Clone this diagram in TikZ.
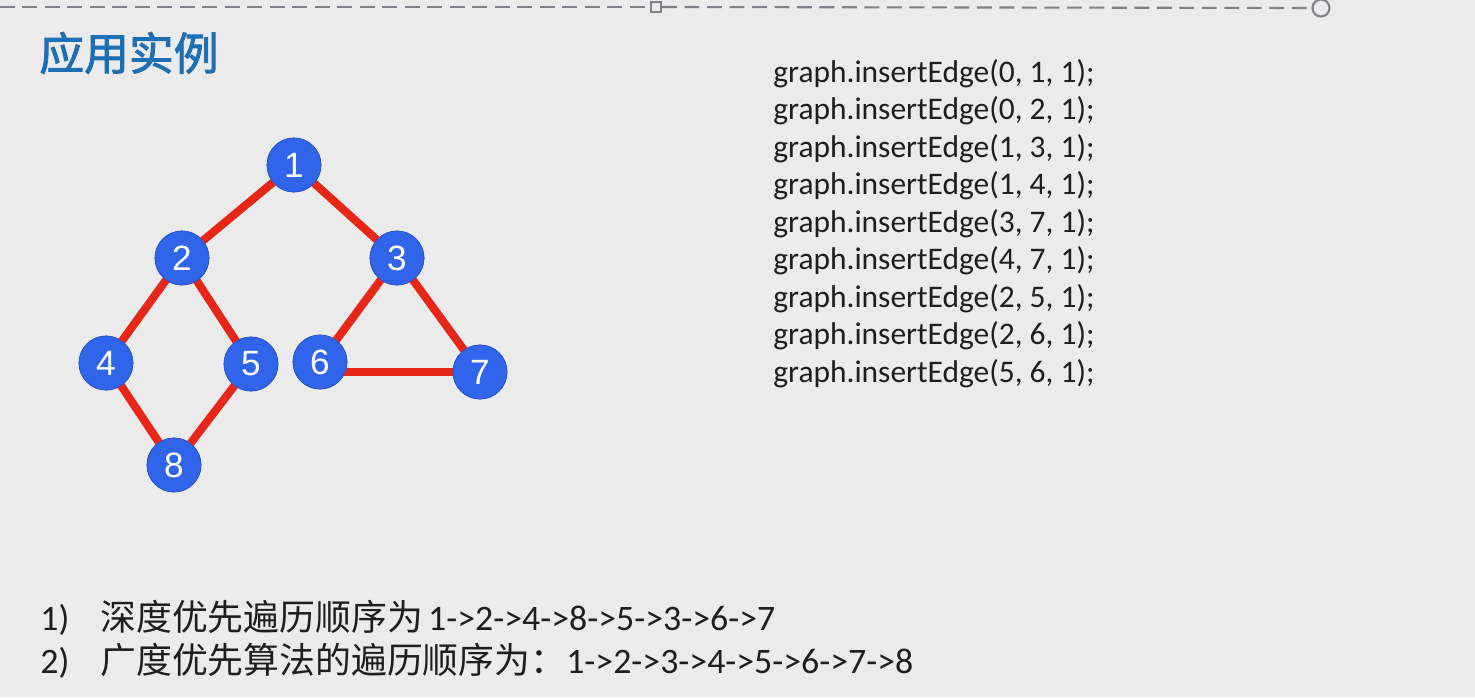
\documentclass[tikz,border=0pt]{standalone}
\usepackage{fontspec}
\setmainfont{Carlito}
\newfontfamily\cjk{Noto Sans CJK SC}
\newfontfamily\cjkb{Noto Sans CJK SC}[BoldFont=*,FakeBold=2]
\newfontfamily\numfont{Liberation Sans}
\definecolor{bgc}{RGB}{235,235,235}
\definecolor{nodeblue}{RGB}{48,100,235}
\definecolor{edgered}{RGB}{232,38,24}
\definecolor{titleblue}{RGB}{30,112,182}
\definecolor{dashgray}{RGB}{125,128,135}
\definecolor{txt}{RGB}{30,30,30}
\begin{document}
\begin{tikzpicture}[x=0.02cm,y=-0.02cm,
  vtx/.style={circle,fill=nodeblue,draw=nodeblue!85!black,line width=0.4pt,minimum size=1.08cm,inner sep=0pt,text=white,font=\numfont\fontsize{20}{20}\selectfont},
  edg/.style={draw=edgered,line width=4.6pt},
  guide/.style={dashgray,line width=1.2pt,dash pattern=on 8.5pt off 4.3pt},
  codeline/.style={anchor=base west,inner sep=0pt,text=txt,font=\fontsize{17.9}{20}\selectfont},
  bottomline/.style={anchor=base west,inner sep=0pt,text=txt,font=\fontsize{20.4}{22}\selectfont}]
\fill[bgc] (0,0) rectangle (1475,697);
\useasboundingbox (0,0) rectangle (1475,697);
% top dashed guide
\coordinate (dl) at (0,7);
\node[draw=dashgray,line width=1.2pt,fill=bgc,minimum size=0.2cm,inner sep=0pt] (sq) at (656,7) {};
\node[draw=dashgray,line width=1.2pt,fill=bgc,circle,minimum size=0.34cm,inner sep=0pt] (ring) at (1321,8) {};
\draw[guide] (dl) -- (sq.west);
\draw[guide] (sq.east) -- (ring.west);
% title
\node[anchor=west,inner sep=0pt,text=titleblue,font=\cjkb\fontsize{25.5}{26}\selectfont] (title) at (39,53) {应用实例};
% graph
\node[vtx] (n1) at (294,165) {1};
\node[vtx] (n2) at (182,258) {2};
\node[vtx] (n3) at (397,258) {3};
\node[vtx] (n4) at (106,363) {4};
\node[vtx] (n5) at (251,364) {5};
\node[vtx] (n6) at (320,362) {6};
\node[vtx] (n7) at (480,372) {7};
\node[vtx] (n8) at (174,465) {8};
\draw[edg] (n1.center) -- (n2.center);
\draw[edg] (n1.center) -- (n3.center);
\draw[edg] (n2.center) -- (n4.center);
\draw[edg] (n2.center) -- (n5.center);
\draw[edg] (n3.center) -- (n6.center);
\draw[edg] (n3.center) -- (n7.center);
\draw[edg] (n6.center |- n7.center) -- (n7.center);
\draw[edg] (n4.center) -- (n8.center);
\draw[edg] (n5.center) -- (n8.center);
% nodes drawn again on top of the edges
\foreach \n in {1,...,8} {\node[vtx] at (n\n) {\n};}
% code
\node[codeline] (c1) at (773,82) {graph.insertEdge(0, 1, 1);};
\node[codeline] (c2) at (773,119.5) {graph.insertEdge(0, 2, 1);};
\node[codeline] (c3) at (773,157) {graph.insertEdge(1, 3, 1);};
\node[codeline] (c4) at (773,194.5) {graph.insertEdge(1, 4, 1);};
\node[codeline] (c5) at (773,232) {graph.insertEdge(3, 7, 1);};
\node[codeline] (c6) at (773,269.5) {graph.insertEdge(4, 7, 1);};
\node[codeline] (c7) at (773,307) {graph.insertEdge(2, 5, 1);};
\node[codeline] (c8) at (773,344.5) {graph.insertEdge(2, 6, 1);};
\node[codeline] (c9) at (773,382) {graph.insertEdge(5, 6, 1);};
% bottom lines
\node[bottomline] (b1n) at (40,630) {1)};
\node[bottomline] (b1) at (100,630) {{\cjk 深度优先遍历顺序为}\hspace{3pt}1->2->4->8->5->3->6->7};
\node[bottomline] (b2n) at (40,673) {2)};
\node[bottomline] (b2) at (100,673) {{\cjk 广度优先算法的遍历顺序为：}1->2->3->4->5->6->7->8};
\end{tikzpicture}
\end{document}
